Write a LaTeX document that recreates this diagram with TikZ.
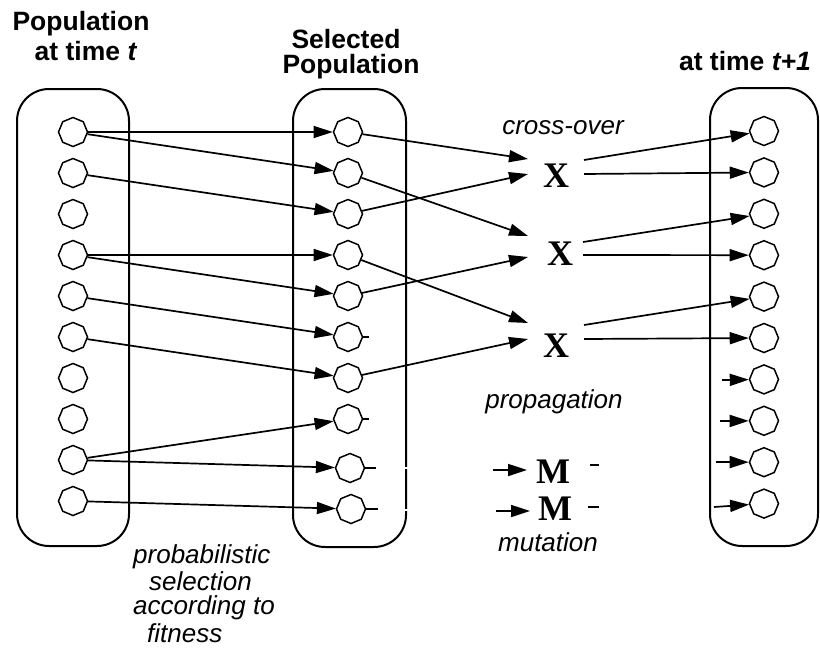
\documentclass[tikz,border=0pt]{standalone}
\usepackage{fontspec}
\setmainfont{Liberation Sans}
\newfontfamily\timesf{Liberation Serif}
\usetikzlibrary{shapes.geometric,arrows.meta}
\begin{document}
\begin{tikzpicture}[x=1pt,y=-1pt,
  ind/.style={regular polygon, regular polygon sides=8, shape border rotate=22.5, draw, line width=1.5pt, minimum size=29pt, inner sep=0pt},
  conn/.style={line width=1.7pt, -{Triangle[length=19pt,width=12pt]}},
  plain/.style={line width=1.7pt},
  box/.style={draw, line width=2pt, rounded corners=32pt},
  lbl/.style={font=\fontsize{26.5}{30}\selectfont\bfseries, inner sep=0pt},
  itl/.style={font=\fontsize{26}{30}\selectfont\itshape, inner sep=0pt},
  op/.style={font=\timesf\fontsize{36}{40}\selectfont\bfseries, inner sep=0pt}]
\useasboundingbox (0,0) rectangle (820,648);
% boxes
\draw[box] (17,89) rectangle (129,546);
\draw[box] (293,89) rectangle (406,547);
\draw[box] (710,88) rectangle (818,546);
% individuals
\foreach \i in {0,...,9} {\node[ind] (l\i) at (73,{132+41*\i}) {};}
\foreach \i in {0,...,7} {\node[ind] (m\i) at (348,{132+41*\i}) {};}
\node[ind] (m8) at (350,468) {};
\node[ind] (m9) at (351,509) {};
\foreach \i in {0,...,9} {\node[ind] (r\i) at (764,{131+41.4*\i}) {};}
% headings
\node[lbl, anchor=base] (h1) at (81,30) {Population};
\node[lbl, anchor=base] (h2) at (86,60) {at time \textit{t}};
\node[lbl, anchor=base] (h3) at (346,48) {Selected};
\node[lbl, anchor=base] (h4) at (351,73) {Population};
\node[lbl, anchor=base] (h5) at (745,70) {at time \textit{t+1}};
% italic labels
\node[itl, anchor=base] (co) at (563,134) {cross-over};
\node[itl, anchor=base] (pr) at (554,408) {propagation};
\node[itl, anchor=base] (mu) at (548,551) {mutation};
\node[itl, anchor=base west] (p1) at (133,563) {probabilistic};
\node[itl, anchor=base west] (p2) at (149,590) {selection};
\node[itl, anchor=base west] (p3) at (133,614) {according to};
\node[itl, anchor=base west] (p4) at (147,642) {fitness};
% operators
\node[op] (x1) at (556,176) {X};
\node[op] (x2) at (560,254) {X};
\node[op] (x3) at (556,346) {X};
\node[op] (mm1) at (553,472) {M};
\node[op] (mm2) at (555,509) {M};
% selection
\draw[conn] (l0) -- (m0);
\draw[conn] (l0) -- (m1);
\draw[conn] (l1) -- (m2);
\draw[conn] (l3) -- (m3);
\draw[conn] (l3) -- (m4);
\draw[conn] (l4) -- (m5);
\draw[conn] (l5) -- (m6);
\draw[conn] (l8) -- (m7);
\draw[conn] (l8) -- (m8);
\draw[conn] (l9) -- (m9);
% stubs on selected population
\draw[plain] (m5.east) -- ++(6,0);
\draw[plain] (m7.east) -- ++(6,0);
\draw[plain] (m8.east) -- ++(11,0);
\draw[plain] (m9.east) -- ++(12,0);
\draw[white, line width=1.5pt] (402,468) -- (410,468);
\draw[white, line width=1.5pt] (402,510) -- (410,510);
% cross-over inputs
\coordinate (x1a) at (528,159); \coordinate (x1b) at (528,174);
\coordinate (x2a) at (528,236); \coordinate (x2b) at (528,257);
\coordinate (x3a) at (528,323); \coordinate (x3b) at (528,339);
\draw[conn] (m0) -- (x1a);
\draw[conn] (m2) -- (x1b);
\draw[conn] (m1) -- (x2a);
\draw[conn] (m4) -- (x2b);
\draw[conn] (m3) -- (x3a);
\draw[conn] (m6) -- (x3b);
% cross-over outputs
\coordinate (x1c) at (584,160); \coordinate (x1d) at (584,174);
\coordinate (x2c) at (583,242); \coordinate (x2d) at (583,255);
\coordinate (x3c) at (584,325); \coordinate (x3d) at (584,339);
\draw[conn] (x1c) -- (r0);
\draw[conn] (x1d) -- (r1);
\draw[conn] (x2c) -- (r2);
\draw[conn] (x2d) -- (r3);
\draw[conn] (x3c) -- (r4);
\draw[conn] (x3d) -- (r5);
% short arrows into new population
\coordinate (s6) at (722,380);
\coordinate (s7) at (720,421);
\coordinate (s8) at (716,462);
\coordinate (s9) at (714,507);
\draw[conn] (s6) -- (r6);
\draw[conn] (s7) -- (r7);
\draw[conn] (s8) -- (r8);
\draw[conn] (s9) -- (r9);
% mutation
\coordinate (ma1) at (493,470); \coordinate (mb1) at (527,470);
\coordinate (ma2) at (496,511); \coordinate (mb2) at (530,511);
\draw[conn] (ma1) -- (mb1);
\draw[conn] (ma2) -- (mb2);
\coordinate (d1a) at (590,465); \coordinate (d1b) at (599,465);
\coordinate (d2a) at (588,507); \coordinate (d2b) at (599,507);
\draw[plain] (d1a) -- (d1b);
\draw[plain] (d2a) -- (d2b);
\end{tikzpicture}
\end{document}
